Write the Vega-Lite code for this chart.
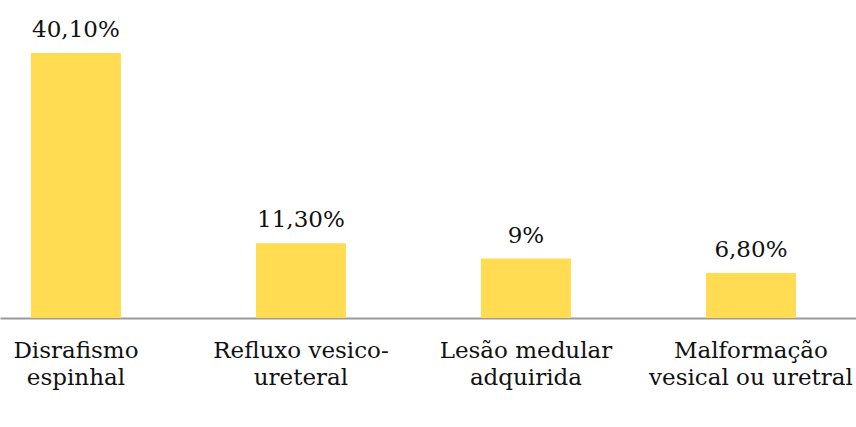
{
  "$schema": "https://vega.github.io/schema/vega-lite/v6.json",
  "width": 856,
  "height": 265,
  "autosize": {"type": "none"},
  "padding": {"top": 53, "left": 0, "right": 0, "bottom": 109},
  "background": "white",
  "data": {"values": [
    {"cat": "Disrafismo|espinhal", "v": 40.1, "lab": "40,10%"},
    {"cat": "Refluxo vesico-|ureteral", "v": 11.3, "lab": "11,30%"},
    {"cat": "Lesão medular|adquirida", "v": 9, "lab": "9%"},
    {"cat": "Malformação|vesical ou uretral", "v": 6.8, "lab": "6,80%"}
  ]},
  "encoding": {
    "x": {
      "field": "cat", "type": "nominal", "sort": null,
      "scale": {"paddingInner": 0.6, "paddingOuter": 0.2022, "align": 0.34},
      "axis": {
        "title": null, "labelAngle": 0, "ticks": false,
        "labelExpr": "split(datum.label, '|')",
        "labelFont": "DejaVu Serif", "labelFontSize": 23, "labelColor": "#111",
        "labelLineHeight": 27, "labelPadding": 21, "labelLimit": 300,
        "domainColor": "#999", "domainWidth": 2
      }
    },
    "y": {
      "field": "v", "type": "quantitative",
      "scale": {"domain": [0, 40.1], "nice": false},
      "axis": null
    }
  },
  "layer": [
    {"mark": {"type": "bar", "color": "#FFDC52"}},
    {"mark": {"type": "text", "dy": -16, "baseline": "alphabetic", "font": "DejaVu Serif", "fontSize": 23, "color": "#111"},
     "encoding": {"text": {"field": "lab"}}}
  ],
  "config": {"view": {"stroke": null}}
}
